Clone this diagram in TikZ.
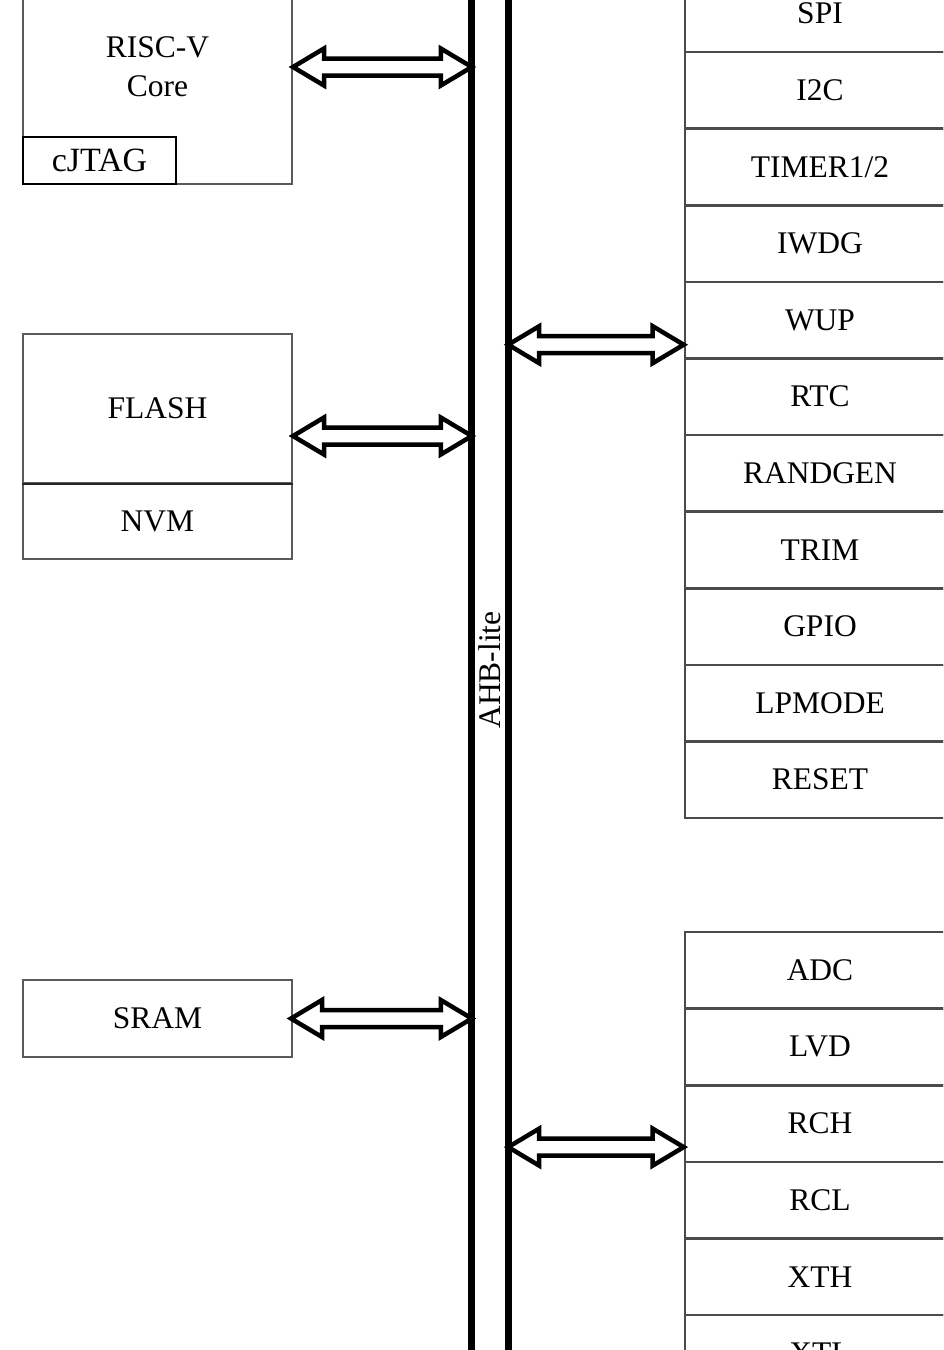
\documentclass[tikz,border=0pt]{standalone}
\usepackage{fontspec}
\setmainfont{Liberation Serif}
\usetikzlibrary{calc}
\definecolor{boxgray}{RGB}{90,90,90}
\definecolor{sepgray}{RGB}{75,75,75}
\tikzset{
  lbl/.style={font=\fontsize{31.5}{39}\selectfont, text=black},
  blk/.style={draw=boxgray, line width=2pt, inner sep=0pt, lbl, align=center},
  jtagbox/.style={draw=black, line width=2pt, inner sep=0pt, font=\fontsize{34}{38}\selectfont},
  pbox/.style={draw=sepgray, line width=2.6pt, inner sep=0pt, lbl, minimum width=270pt, minimum height=76.6pt},
  busline/.style={line width=7pt, black},
  dblarrow/.style={draw=black, fill=white, line width=4.5pt, line join=miter}
}
\newcommand{\dblarr}[2]{%
  \draw[dblarrow] let \p1=(#1), \p2=(#2) in
    (\x1,\y1) -- (\x1+31pt,\y1+18.5pt) -- (\x1+31pt,\y1+8.5pt) -- (\x2-31pt,\y1+8.5pt)
    -- (\x2-31pt,\y1+18.5pt) -- (\x2,\y1) -- (\x2-31pt,\y1-18.5pt) -- (\x2-31pt,\y1-8.5pt)
    -- (\x1+31pt,\y1-8.5pt) -- (\x1+31pt,\y1-18.5pt) -- cycle;}
\begin{document}
\begin{tikzpicture}[x=1pt,y=-1pt]
\useasboundingbox (0,0) rectangle (943,1350);
\clip (0,0) rectangle (943,1350);
\fill[white] (0,0) rectangle (943,1350);

% left blocks
\node[blk, minimum width=269pt, minimum height=234pt] (core) at (157.5,67) {RISC-V\\Core};
\node[jtagbox, minimum width=153pt, minimum height=47pt] (jtag) at (99.5,160.5) {cJTAG};
\node[blk, minimum width=269pt, minimum height=149pt] (flash) at (157.5,408.5) {FLASH};
\node[blk, minimum width=269pt, minimum height=76pt] (nvm) at (157.5,521) {NVM};
\draw[line width=2pt, black!85] (flash.south west) -- (flash.south east);
\node[blk, minimum width=269pt, minimum height=77pt] (sram) at (157.5,1018.5) {SRAM};

% right blocks, upper group
\foreach \n/\t [count=\i from 0] in {spi/SPI, i2c/I2C, timer/{TIMER1/2}, iwdg/IWDG, wup/WUP, rtc/RTC, randgen/RANDGEN, trim/TRIM, gpio/GPIO, lpmode/LPMODE, reset/RESET}
  \node[pbox] (\n) at (820,{-24.6+76.6*(\i+0.5)}) {\t};
% right blocks, lower group
\foreach \n/\t [count=\i from 0] in {adc/ADC, lvd/LVD, rch/RCH, rcl/RCL, xth/XTH, xtl/XTL}
  \node[pbox] (\n) at (820,{932+76.6*(\i+0.5)}) {\t};

% bus
\node[minimum width=36pt, minimum height=1500pt, inner sep=0pt] (bus) at (490,675) {};

% arrows
\dblarr{core.east}{core.east -| bus.west}
\dblarr{[yshift=-27.5pt]flash.east}{[yshift=-27.5pt]flash.east -| bus.west}
\dblarr{[xshift=-2pt]sram.east}{sram.east -| bus.west}
\dblarr{[yshift=15pt]wup.south west -| bus.east}{[yshift=15pt]wup.south west}
\dblarr{[yshift=16pt]rch.south west -| bus.east}{[yshift=16pt]rch.south west}

\draw[busline] (bus.north west) -- (bus.south west);
\draw[busline] (bus.north east) -- (bus.south east);
\node[lbl, rotate=90] (ahb) at (490,670) {AHB-lite};
\end{tikzpicture}
\end{document}
